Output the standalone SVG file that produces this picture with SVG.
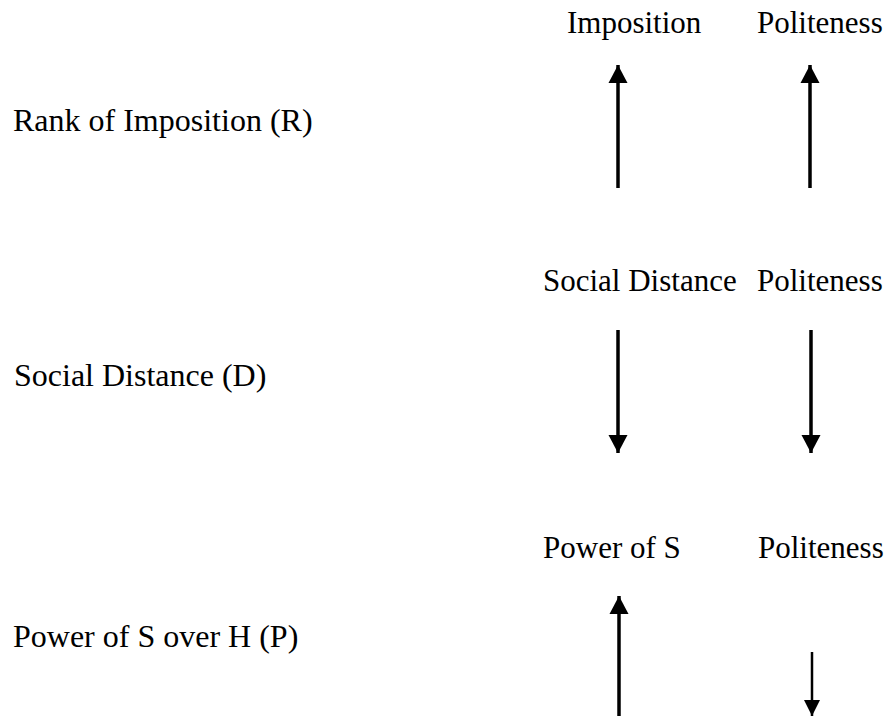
<svg xmlns="http://www.w3.org/2000/svg" width="890" height="716" viewBox="0 0 890 716">
  <style>
    .lbl { font-family: 'Liberation Serif', 'Times New Roman', 'DejaVu Serif', serif; font-size: 31px; fill: #000; }
    .big { font-size: 32px; }
    .arrow { stroke: #000; stroke-width: 3.5; fill: none; }
    .thin { stroke-width: 2.5; }
  </style>
  <defs>
    <marker id="head" markerUnits="userSpaceOnUse" markerWidth="20" markerHeight="20" viewBox="0 0 20 20" refX="18" refY="10" orient="auto">
      <polygon points="0,0.5 18,10 0,19.5" fill="#000"/>
    </marker>
    <marker id="headSmall" markerUnits="userSpaceOnUse" markerWidth="18" markerHeight="18" viewBox="0 0 18 18" refX="16" refY="9" orient="auto">
      <polygon points="0,1 16,9 0,17" fill="#000"/>
    </marker>
  </defs>
  <rect width="890" height="716" fill="#fff"/>

  <g id="row-rank">
    <text class="lbl big" x="13" y="131">Rank of Imposition (R)</text>
  </g>
  <g id="label-imposition">
    <text class="lbl" x="567" y="33">Imposition</text>
  </g>
  <g id="label-politeness-1">
    <text class="lbl" x="757" y="33">Politeness</text>
  </g>

  <g id="row-distance">
    <text class="lbl big" x="14" y="386">Social Distance (D)</text>
  </g>
  <g id="label-social-distance">
    <text class="lbl" x="543" y="291">Social Distance</text>
  </g>
  <g id="label-politeness-2">
    <text class="lbl" x="757" y="291">Politeness</text>
  </g>

  <g id="row-power">
    <text class="lbl big" x="13" y="647">Power of S over H (P)</text>
  </g>
  <g id="label-power-of-s">
    <text class="lbl" x="543" y="558">Power of S</text>
  </g>
  <g id="label-politeness-3">
    <text class="lbl" x="758" y="558">Politeness</text>
  </g>

  <g id="connectors">
    <line class="arrow" x1="618" y1="188" x2="618" y2="65" marker-end="url(#head)"/>
    <line class="arrow" x1="810" y1="188" x2="810" y2="65" marker-end="url(#head)"/>
    <line class="arrow" x1="618" y1="330" x2="618" y2="453" marker-end="url(#head)"/>
    <line class="arrow" x1="811" y1="330" x2="811" y2="453" marker-end="url(#head)"/>
    <line class="arrow" x1="619" y1="716" x2="619" y2="596" marker-end="url(#head)"/>
    <line class="arrow thin" x1="812" y1="652" x2="812" y2="716" marker-end="url(#headSmall)"/>
  </g>
</svg>
